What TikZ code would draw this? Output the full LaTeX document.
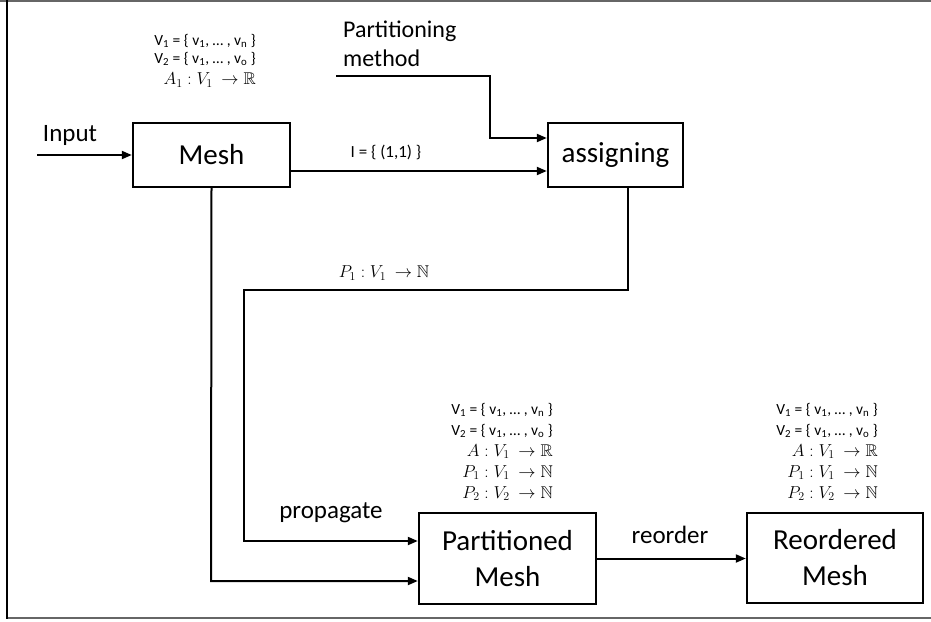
\documentclass[tikz,border=0pt]{standalone}
\usepackage{amssymb}
\usepackage{fontspec}
\setmainfont{Carlito}
\usetikzlibrary{arrows.meta}
% math in annotations, set a little larger than the surrounding text
\newcommand\mth[1]{{\fontsize{17}{17}\selectfont$#1$}}
\begin{document}
\begin{tikzpicture}[x=1pt,y=-1pt,
  box/.style={draw, line width=2.4pt, inner sep=0pt, font=\fontsize{29}{36}\selectfont, align=center},
  flow/.style={line width=2pt, -{Triangle[length=10pt,width=8pt]}},
  lbl/.style={font=\fontsize{25}{29}\selectfont, inner sep=0pt},
  ann/.style={font=\fontsize{15.5}{18}\selectfont, inner sep=0pt, align=right},
  annb/.style={font=\fontsize{15.5}{21}\selectfont, inner sep=0pt, align=right}]
  \useasboundingbox (0,0) rectangle (931,621);
  % frame edges
  \draw[line width=2pt, color=black!60] (0,1) -- (931,1);
  \draw[line width=2pt, color=black!60] (7,618) -- (931,618);
  \draw[line width=2pt] (7,0) -- (7,619);

  % boxes
  \node[box, minimum width=157pt, minimum height=64pt] (mesh) at (211.5,155) {Mesh};
  \node[box, minimum width=135pt, minimum height=64pt] (asg) at (615.5,155) {assigning};
  \node[box, minimum width=177pt, minimum height=91pt] (pm) at (507.5,558.5) {Partitioned\\Mesh};
  \node[box, minimum width=176pt, minimum height=90pt] (rm) at (835,558) {Reordered\\Mesh};

  % free ends
  \coordinate (in) at (37,155);
  \coordinate (pmeth) at (336,76);

  % annotations
  \node[ann, anchor=east] (meshann) at (256,61)
    {V\textsubscript{1} = \{ v\textsubscript{1}, \dots\ , v\textsubscript{n} \}\\
     V\textsubscript{2} = \{ v\textsubscript{1}, \dots\ , v\textsubscript{o} \}\\[3pt]
     \mth{A_1 : V_1\ \rightarrow \mathbb{R}}};
  \node[annb, anchor=east] (pmann) at (553,452)
    {V\textsubscript{1} = \{ v\textsubscript{1}, \dots\ , v\textsubscript{n} \}\\
     V\textsubscript{2} = \{ v\textsubscript{1}, \dots\ , v\textsubscript{o} \}\\
     \mth{A : V_1\ \rightarrow \mathbb{R}}\\
     \mth{P_1 : V_1\ \rightarrow \mathbb{N}}\\
     \mth{P_2 : V_2\ \rightarrow \mathbb{N}}};
  \node[annb, anchor=east] (rmann) at (878,452)
    {V\textsubscript{1} = \{ v\textsubscript{1}, \dots\ , v\textsubscript{n} \}\\
     V\textsubscript{2} = \{ v\textsubscript{1}, \dots\ , v\textsubscript{o} \}\\
     \mth{A : V_1\ \rightarrow \mathbb{R}}\\
     \mth{P_1 : V_1\ \rightarrow \mathbb{N}}\\
     \mth{P_2 : V_2\ \rightarrow \mathbb{N}}};

  % labels
  \node[lbl] (inlbl) at (70,135) {Input};
  \node[lbl, font=\fontsize{24}{29}\selectfont, align=left, anchor=north west] (pmlbl) at (343,21) {Partitioning\\method};
  \node[ann, font=\fontsize{17}{18}\selectfont] (ilbl) at (386,152) {I = \{ (1,1) \}};
  \node[ann] (p1lbl) at (384,273) {\mth{P_1 : V_1\ \rightarrow \mathbb{N}}};
  \node[lbl] (proplbl) at (331,513) {propagate};
  \node[lbl] (reolbl) at (670,535) {reorder};

  % connectors
  \draw[flow] (in) -- (mesh.west);
  \draw[flow] (mesh.east |- 0,171) -- (asg.west |- 0,171);
  \draw[flow] (pmeth) -- (490,76) -- (490,138) -- (asg.west |- 0,138);
  \draw[flow] (asg.south -| 628,0) -- (628,290) -- (244,290) -- (244,541) -- (pm.west |- 0,541);
  \draw[flow] (mesh.south) -- (211,581) -- (pm.west |- 0,581);
  \draw[flow] (pm.east) -- (rm.west |- pm.east);
\end{tikzpicture}
\end{document}
